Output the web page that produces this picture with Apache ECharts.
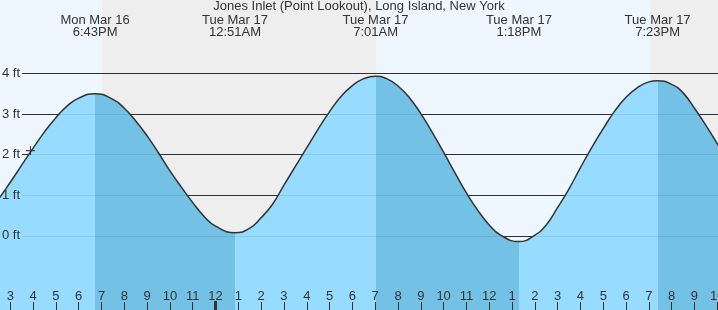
<!DOCTYPE html>
<html>
<head>
<meta charset="utf-8">
<script src="https://cdn.jsdelivr.net/npm/echarts@6/dist/echarts.min.js"></script>
<style>
html,body{margin:0;padding:0;background:#fff;}
#chart{width:718px;height:310px;}
</style>
</head>
<body>
<div id="chart"></div>
<script>
// ---- data ----
const titleText = 'Jones Inlet (Point Lookout), Long Island, New York';

const tideTimes = [
  '2026-03-16 14:00', '2026-03-16 14:30', '2026-03-16 15:00', '2026-03-16 15:30',
  '2026-03-16 16:00', '2026-03-16 16:30', '2026-03-16 17:00', '2026-03-16 17:30',
  '2026-03-16 18:00', '2026-03-16 18:43', '2026-03-16 19:30', '2026-03-16 20:00',
  '2026-03-16 20:30', '2026-03-16 21:00', '2026-03-16 21:30', '2026-03-16 22:00',
  '2026-03-16 22:30', '2026-03-16 23:00', '2026-03-16 23:30', '2026-03-17 00:00',
  '2026-03-17 00:51', '2026-03-17 01:30', '2026-03-17 02:00', '2026-03-17 02:30',
  '2026-03-17 03:00', '2026-03-17 03:30', '2026-03-17 04:00', '2026-03-17 04:30',
  '2026-03-17 05:00', '2026-03-17 05:30', '2026-03-17 06:00', '2026-03-17 06:30',
  '2026-03-17 07:01', '2026-03-17 07:30', '2026-03-17 08:00', '2026-03-17 08:30',
  '2026-03-17 09:00', '2026-03-17 09:30', '2026-03-17 10:00', '2026-03-17 10:30',
  '2026-03-17 11:00', '2026-03-17 11:30', '2026-03-17 12:00', '2026-03-17 12:30',
  '2026-03-17 13:18', '2026-03-17 14:00', '2026-03-17 14:30', '2026-03-17 15:00',
  '2026-03-17 15:30', '2026-03-17 16:00', '2026-03-17 16:30', '2026-03-17 17:00',
  '2026-03-17 17:30', '2026-03-17 18:00', '2026-03-17 18:30', '2026-03-17 19:00',
  '2026-03-17 19:23', '2026-03-17 20:00', '2026-03-17 20:30', '2026-03-17 21:00',
  '2026-03-17 21:30', '2026-03-17 22:00', '2026-03-17 22:30'
];
const tideFeet = [
  0.58, 0.92, 1.32, 1.74,
  2.16, 2.56, 2.91, 3.20,
  3.39, 3.50, 3.36, 3.14,
  2.83, 2.46, 2.04, 1.60,
  1.20, 0.82, 0.48, 0.24,
  0.08, 0.19, 0.45, 0.78,
  1.25, 1.71, 2.17, 2.63,
  3.06, 3.43, 3.70, 3.87,
  3.93, 3.87, 3.69, 3.40,
  3.01, 2.55, 2.06, 1.55,
  1.06, 0.63, 0.27, 0.02,
  -0.14, 0.02, 0.27, 0.70,
  1.16, 1.68, 2.18, 2.64,
  3.07, 3.41, 3.65, 3.79,
  3.82, 3.73, 3.52, 3.14,
  2.72, 2.27, 1.80
];

const extremeTimes = ['2026-03-16 18:43', '2026-03-17 00:51', '2026-03-17 07:01', '2026-03-17 13:18', '2026-03-17 19:23'];
const extremeDays  = ['Mon Mar 16', 'Tue Mar 17', 'Tue Mar 17', 'Tue Mar 17', 'Tue Mar 17'];
const extremeClock = ['6:43PM', '12:51AM', '7:01AM', '1:18PM', '7:23PM'];
const extremeKind  = ['high', 'low', 'high', 'low', 'high'];

// sunset / sunrise / sunset
const sunTimes = ['2026-03-16 19:01', '2026-03-17 07:02', '2026-03-17 19:03'];

const nowTime = '2026-03-16 15:53';
const nowFeet = 2.10;

const feetTicks = [0, 1, 2, 3, 4];
const tickFirst = '2026-03-16 15:00';
const tickLast  = '2026-03-17 22:00';
const midnightTick = '2026-03-17 00:00';

const axisMinTime = '2026-03-16 14:32:54';
const axisMaxTime = '2026-03-17 22:01:53';
const feetMin = -1.823, feetMax = 5.805;

// ---- helpers ----
const ts = s => new Date(s.replace(' ', 'T')).getTime();
const HOUR = 3600 * 1000;
const hourTicks = [];
for (let t = ts(tickFirst); t <= ts(tickLast); t += HOUR) hourTicks.push(t);

const tideData = tideTimes.map((t, i) => [ts(t), tideFeet[i]]);
const extremeTs = extremeTimes.map(ts);

const xMin = ts(axisMinTime), xMax = ts(axisMaxTime);

// fill shading: falling tide (after a high until the next low) darker
const LIGHT = '#97dcfe', DARK = '#73c1e5';
const pieces = [];
let prev = -1e15;
extremeTs.forEach((v, i) => {
  pieces.push({ gte: prev, lt: v, color: extremeKind[i] === 'high' ? LIGHT : DARK });
  prev = v;
});
pieces.push({ gte: prev, lt: 1e15, color: extremeKind[extremeKind.length - 1] === 'high' ? DARK : LIGHT });

// background day/night bands
const DAY = '#eef7ff', NIGHT = '#eeeeee';
const bandEdges = [xMin].concat(sunTimes.map(ts)).concat([xMax]);
const bands = [];
for (let i = 0; i < bandEdges.length - 1; i++) {
  bands.push([{ xAxis: bandEdges[i], itemStyle: { color: i % 2 === 0 ? DAY : NIGHT } }, { xAxis: bandEdges[i + 1] }]);
}

const FONT = 'Liberation Sans';
const TXT = '#333';

const chart = echarts.init(document.getElementById('chart'), null, { renderer: 'canvas' });
chart.setOption({
  animation: false,
  backgroundColor: '#ffffff',
  textStyle: { fontFamily: FONT },
  title: {
    text: titleText, left: 'center', top: 0, padding: 0,
    textStyle: { fontFamily: FONT, fontSize: 13, fontWeight: 'normal', color: TXT }
  },
  grid: [
    { left: 0, right: 0, top: 0, bottom: 0, outerBoundsMode: 'none', containLabel: false },
    { left: 22, right: 0, top: 0, bottom: 0, outerBoundsMode: 'none', containLabel: false }
  ],
  xAxis: [
    { // hourly ticks at bottom
      type: 'value', gridIndex: 0, min: xMin, max: xMax, position: 'bottom', z: 5,
      axisLine: { show: false, onZero: false },
      splitLine: { show: false },
      axisTick: { show: true, inside: true, length: 8, customValues: hourTicks, lineStyle: { color: TXT, width: 1 } },
      axisLabel: {
        show: true, inside: true, margin: 7, customValues: hourTicks, hideOverlap: false,
        color: TXT, fontSize: 13, fontFamily: FONT,
        formatter: v => { const h = new Date(v).getHours() % 12; return String(h === 0 ? 12 : h); }
      }
    },
    { // thick midnight tick
      type: 'value', gridIndex: 0, min: xMin, max: xMax, position: 'bottom', offset: 0, z: 6,
      axisLine: { show: false, onZero: false }, splitLine: { show: false },
      axisTick: { show: true, inside: true, length: 9, customValues: [ts(midnightTick)], lineStyle: { color: TXT, width: 3 } },
      axisLabel: { show: false, customValues: [ts(midnightTick)] }
    },
    { // high/low header labels
      type: 'value', gridIndex: 0, min: xMin, max: xMax, position: 'top', offset: 0, z: 5,
      axisLine: { show: false, onZero: false }, splitLine: { show: false },
      axisTick: { show: false, customValues: extremeTs },
      axisLabel: {
        show: true, inside: true, margin: 14, customValues: extremeTs, hideOverlap: false,
        color: TXT, fontSize: 13, fontFamily: FONT, lineHeight: 12, align: 'center',
        formatter: v => { const i = extremeTs.indexOf(v); return i < 0 ? '' : extremeDays[i] + '\n' + extremeClock[i]; }
      }
    },
    { type: 'value', gridIndex: 1, show: false, min: 0, max: 1 }
  ],
  yAxis: [
    { type: 'value', gridIndex: 0, min: feetMin, max: feetMax, show: false, splitLine: { show: false } },
    { // dark grid lines (behind the water)
      type: 'value', gridIndex: 1, min: feetMin, max: feetMax, position: 'left', offset: 0, z: 1.6,
      axisLine: { show: false },
      axisTick: { show: false, customValues: feetTicks },
      axisLabel: { show: false, customValues: feetTicks },
      splitLine: { show: true, lineStyle: { color: '#333', width: 1 } }
    },
    { // faint grid lines over the water + labels
      type: 'value', gridIndex: 1, min: feetMin, max: feetMax, position: 'left', offset: 0, z: 2.5,
      axisLine: { show: false },
      axisTick: { show: false, customValues: feetTicks },
      axisLabel: { show: true, customValues: feetTicks, margin: 2, color: TXT, fontSize: 13, fontFamily: FONT, formatter: '{value} ft' },
      splitLine: { show: true, lineStyle: { color: 'rgba(0,40,80,0.1)', width: 1 } }
    }
  ],
  visualMap: [{
    type: 'piecewise', show: false, dimension: 0, seriesIndex: 1, pieces: pieces
  }],
  series: [
    { // background bands
      type: 'line', xAxisIndex: 0, yAxisIndex: 0, data: [], z: 0, silent: true,
      markArea: { silent: true, z: 1, data: bands }
    },
    { // water fill
      type: 'line', xAxisIndex: 0, yAxisIndex: 0, data: tideData, z: 2,
      smooth: 0.5, showSymbol: false, silent: true,
      lineStyle: { width: 0 },
      areaStyle: { opacity: 1, origin: 'start' }
    },
    { // tide curve
      type: 'line', xAxisIndex: 0, yAxisIndex: 0, data: tideData, z: 3,
      smooth: 0.5, showSymbol: false, silent: true,
      lineStyle: { width: 1.5, color: '#333' }
    },
    { // current time marker
      type: 'scatter', xAxisIndex: 0, yAxisIndex: 0, data: [[ts(nowTime), nowFeet]], z: 5,
      symbol: 'path://M0,5L10,5M5,0L5,10', symbolSize: 9, silent: true,
      itemStyle: { color: 'none', borderColor: '#222', borderWidth: 1.2 }
    }
  ]
});
</script>
</body>
</html>
